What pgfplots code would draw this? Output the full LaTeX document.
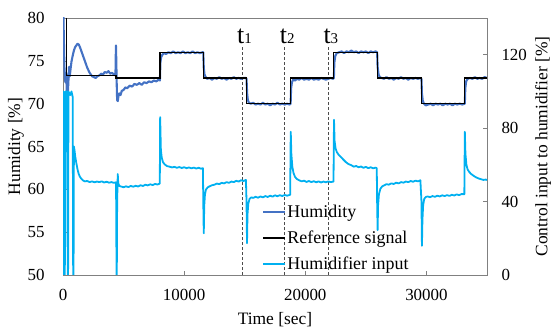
\documentclass[border=0pt]{standalone}
\usepackage{pgfplots}
\pgfplotsset{compat=1.18}
\usepackage{fontspec}
\setmainfont{Liberation Serif}
\definecolor{humblue}{RGB}{68,114,196}
\definecolor{humcyan}{RGB}{0,176,240}
\definecolor{axgray}{RGB}{128,128,128}
\begin{document}
\begin{tikzpicture}
\pgfplotsset{
 common/.style={
  scale only axis, width=424bp, height=257bp,
  xmin=0, xmax=35000,
  tick align=inside,
  /pgf/number format/assume math mode=true,
  /pgf/number format/1000 sep={},
  scaled x ticks=false,
  tick label style={font=\fontsize{17}{20}\selectfont},
  label style={font=\fontsize{17.5}{21}\selectfont},
  axis line style={axgray, line width=0.8bp},
  major tick length=4bp,
  tick style={axgray, line width=0.6bp},
 }
}
\begin{axis}[common,
  ymin=50, ymax=80, ytick={50,55,...,80},
  xtick={0,10000,20000,30000},
  xtick pos=bottom, ytick pos=left,
  xlabel={Time [sec]}, ylabel={Humidity [\%]},
  xticklabel style={yshift=-11bp},
  yticklabel style={xshift=-15bp},
  xlabel style={at={(axis description cs:0.5,-0.175)}, anchor=center},
  ylabel style={at={(axis description cs:-0.111,0.5)}, anchor=center},
]
\coordinate (bl) at (rel axis cs:0,0);
\coordinate (tr) at (rel axis cs:1,1);
% dashed markers
\addplot[black!70, dashed, dash pattern=on 3bp off 2bp, line width=0.5bp, forget plot] coordinates {(14780,50)(14780,76.65)};
\addplot[black!70, dashed, dash pattern=on 3bp off 2bp, line width=0.5bp, forget plot] coordinates {(18300,50)(18300,76.65)};
\addplot[black!70, dashed, dash pattern=on 3bp off 2bp, line width=0.5bp, forget plot] coordinates {(21900,50)(21900,76.65)};
\node[anchor=base west, inner sep=0pt, xshift=-5bp] at (axis cs:14780,77.05) {\fontsize{26}{26}\selectfont t{\fontsize{15}{15}\selectfont 1}};
\node[anchor=base west, inner sep=0pt, xshift=-5bp] at (axis cs:18300,77.05) {\fontsize{26}{26}\selectfont t{\fontsize{15}{15}\selectfont 2}};
\node[anchor=base west, inner sep=0pt, xshift=-5bp] at (axis cs:21900,77.05) {\fontsize{26}{26}\selectfont t{\fontsize{15}{15}\selectfont 3}};
% humidity
\addplot[humblue, line width=2.1bp, line join=round] coordinates {
(0,81)(40,80)(90,76)(140,73)(200,72.5)(260,73.6)(320,71.2)(380,70.6)(440,72.4)(500,74.3)(560,73.2)(620,74.0)(700,74.9)(800,75.6)(900,76.2)(1000,76.6)(1100,76.8)(1200,77.0)(1300,76.9)(1400,76.6)(1500,76.2)(1600,75.8)(1700,75.4)(1800,75.0)(1900,74.6)(2000,74.2)(2100,73.9)(2200,73.6)(2300,73.4)(2400,73.2)(2550,73.1)(2700,73.0)(2850,73.2)(3000,73.3)(3150,73.5)(3300,73.4)(3450,73.7)(3600,73.6)(3750,73.8)(3900,73.5)(4050,73.6)(4200,73.4)(4330,73.3)(4370,76.8)(4400,75.0)(4430,72.5)(4470,70.4)(4520,70.3)(4580,70.9)(4650,71.2)(4750,71.0)(4850,71.5)(5000,71.6)(5150,71.9)(5300,71.8)(5500,72.1)(5700,72.0)(5900,72.3)(6100,72.2)(6300,72.4)(6500,72.2)(6700,72.5)(6900,72.4)(7100,72.6)(7300,72.5)(7500,72.7)(7700,72.6)(7900,72.8)(8000,72.7)(8040,74.8)(8100,75.4)(8200,75.7)(8350,75.9)(8500,75.8)(8700,76.0)(8900,75.9)(9100,76.1)(9300,75.9)(9500,76.0)(9700,75.9)(9900,76.1)(10100,75.9)(10300,76.0)(10500,75.9)(10700,76.1)(10900,75.9)(11100,76.0)(11300,75.9)(11500,76.0)(11580,76.0)(11620,74.2)(11680,73.4)(11780,73.1)(11900,72.9)(12100,73.0)(12300,72.8)(12500,73.0)(12700,72.9)(12900,73.1)(13100,72.9)(13300,73.0)(13500,72.8)(13700,73.0)(13900,72.9)(14100,73.1)(14300,72.9)(14500,73.0)(14700,72.9)(14900,73.0)(15100,73.0)(15150,72.9)(15200,71.2)(15260,70.4)(15350,70.1)(15500,70.0)(15700,70.1)(15900,69.9)(16100,70.0)(16300,69.9)(16500,70.1)(16700,69.9)(16900,70.0)(17100,69.8)(17300,70.0)(17500,69.9)(17700,70.1)(17900,69.9)(18100,70.0)(18300,69.9)(18500,70.0)(18700,69.9)(18790,70.0)(18830,71.8)(18900,72.5)(19000,72.8)(19150,72.7)(19300,72.9)(19500,72.8)(19700,73.0)(19900,72.8)(20100,72.9)(20300,72.8)(20500,73.0)(20700,72.8)(20900,72.9)(21100,72.8)(21300,73.0)(21500,72.9)(21700,72.8)(21900,72.9)(22100,73.0)(22300,72.9)(22360,73.0)(22400,74.8)(22480,75.6)(22600,75.9)(22800,76.0)(23000,76.1)(23200,75.9)(23400,76.1)(23600,76.0)(23800,76.2)(24000,76.0)(24200,76.1)(24400,75.9)(24600,76.1)(24800,76.0)(25000,76.1)(25200,75.9)(25400,76.1)(25600,76.0)(25800,76.1)(25930,76.0)(25970,74.3)(26050,73.4)(26150,73.1)(26300,73.0)(26500,72.9)(26700,73.1)(26900,72.9)(27100,73.0)(27300,72.8)(27500,73.0)(27700,72.9)(27900,73.1)(28100,72.9)(28300,73.0)(28500,72.8)(28700,73.0)(28900,72.9)(29100,73.0)(29300,72.9)(29500,73.0)(29590,72.9)(29630,71.2)(29700,70.3)(29800,70.0)(29950,69.8)(30150,69.9)(30350,70.0)(30550,69.8)(30750,70.0)(30950,69.9)(31150,70.0)(31350,69.8)(31550,70.0)(31750,69.9)(31950,70.0)(32150,69.8)(32350,70.0)(32550,69.9)(32750,70.0)(32950,69.9)(33170,70.0)(33210,71.8)(33280,72.6)(33400,72.9)(33600,73.0)(33800,72.9)(34000,73.1)(34200,72.9)(34400,73.0)(34600,72.9)(34800,73.1)(35000,73.0)
};
% reference
\addplot[black, line width=1.2bp] coordinates {
(305,80)(305,73.3)(4370,73.3)(4370,73.0)(8000,73.0)(8000,76)(11580,76)(11580,73)(15150,73)(15150,70)(18790,70)(18790,73)(22360,73)(22360,76)(25930,76)(25930,73)(29590,73)(29590,70)(33170,70)(33170,73)(35000,73)
};
\end{axis}
\begin{axis}[common,
  ymin=0, ymax=140, ytick={0,40,80,120},
  axis x line=none, axis y line*=right, ytick pos=right,
  ylabel={Control input to humidifier [\%]},
  yticklabel style={xshift=11bp},
  ylabel style={at={(axis description cs:1.132,0.5)}, anchor=center},
  legend cell align=left,
  legend image code/.code={\draw[#1] (0bp,0bp) -- (22bp,0bp);},
  legend style={draw=none, fill=none, at={(rel axis cs:0.470,0.01)}, anchor=south west,
     font=\fontsize{18}{21}\selectfont, inner sep=0pt, row sep=10bp,
     nodes={inner sep=1bp}},
]
\addlegendimage{humblue, line width=2bp}
\addlegendentry{Humidity}
\addlegendimage{black, line width=1.2bp}
\addlegendentry{Reference signal}
\addplot[humcyan, line width=1.8bp, line join=round] coordinates {
(0,0)(30,100)(50,0)(150,0)(200,100)(350,100)(390,0)(420,0)(450,100)(600,98)(700,100)(800,97)(840,0)(870,0)(900,70)(950,68)(1000,65)(1100,61)(1200,57.5)(1300,55)(1400,53.5)(1500,52.5)(1650,51.5)(1800,51.0)(2000,51.2)(2200,50.6)(2400,51.0)(2600,50.5)(2800,50.9)(3000,50.6)(3200,51.0)(3400,50.4)(3600,50.8)(3800,50.3)(4000,50.6)(4200,50.2)(4380,50.5)(4420,0)(4440,0)(4470,40)(4520,55)(4560,50)(4650,48.5)(4800,48.2)(5000,47.8)(5200,48.3)(5400,47.9)(5600,48.5)(5800,48.1)(6000,48.6)(6200,48.2)(6400,48.9)(6600,48.5)(6800,49.2)(7000,48.8)(7200,49.4)(7400,49.0)(7600,49.6)(7800,49.3)(7990,49.8)(8020,86)(8080,68)(8150,64)(8250,61.5)(8400,60.2)(8600,59.3)(8800,59.0)(9000,58.6)(9200,58.9)(9400,58.4)(9600,58.8)(9800,58.3)(10000,58.7)(10200,58.2)(10400,58.6)(10600,58.1)(10800,58.5)(11000,58.0)(11200,58.4)(11400,57.9)(11550,58.2)(11580,40)(11620,22.7)(11660,38)(11720,44)(11800,46.5)(11950,47.8)(12100,48.3)(12300,48.9)(12500,49.2)(12700,49.8)(12900,49.5)(13100,50.2)(13300,49.9)(13500,50.6)(13700,50.2)(13900,50.9)(14100,50.6)(14300,51.3)(14500,50.9)(14700,51.6)(14900,51.2)(15100,51.8)(15150,40)(15190,17.3)(15230,33)(15300,39)(15400,41.5)(15550,42.3)(15700,42.0)(15900,42.6)(16100,42.1)(16300,42.8)(16500,42.3)(16700,43.0)(16900,42.5)(17100,43.2)(17300,42.7)(17500,43.4)(17700,42.9)(17900,43.5)(18100,43.0)(18300,43.6)(18500,43.2)(18750,43.7)(18800,78)(18850,66)(18930,59)(19030,55.5)(19150,53.5)(19300,52.3)(19500,51.6)(19700,51.0)(19900,51.4)(20100,50.7)(20300,51.2)(20500,50.6)(20700,51.1)(20900,50.5)(21100,51.0)(21300,50.4)(21500,50.9)(21700,50.5)(21900,51.0)(22100,50.6)(22330,50.9)(22370,84.5)(22420,73)(22500,69)(22600,67)(22750,65.5)(22950,64.2)(23150,62.8)(23350,61.5)(23550,60.5)(23800,59.8)(24000,59.0)(24200,59.4)(24400,58.7)(24600,59.1)(24800,58.4)(25000,58.9)(25200,58.2)(25400,58.7)(25600,58.1)(25800,58.5)(25900,58.2)(25930,40)(25970,24.5)(26010,38)(26080,44)(26200,47)(26350,48.3)(26500,48.8)(26700,49.5)(26900,49.2)(27100,49.9)(27300,49.6)(27500,50.3)(27700,49.9)(27900,50.6)(28100,50.3)(28300,50.9)(28500,50.6)(28700,51.2)(28900,50.8)(29100,51.4)(29300,51.0)(29500,51.6)(29590,40)(29630,15.9)(29670,30)(29730,38)(29820,41.5)(29950,42.5)(30100,42.8)(30300,42.4)(30500,43.0)(30700,42.6)(30900,43.2)(31100,42.8)(31300,43.4)(31500,43.0)(31700,43.5)(31900,43.1)(32100,43.7)(32300,43.3)(32500,43.9)(32700,43.5)(32900,44.1)(33130,44.0)(33170,78)(33220,66)(33300,60)(33400,57.5)(33550,56)(33700,55)(33900,54)(34100,53.2)(34300,52.6)(34500,52.2)(34700,51.8)(34900,52.0)(35000,51.7)
};
\addlegendentry{Humidifier input}
\end{axis}
\pgfresetboundingbox
\path ([shift={(-63bp,-57bp)}]bl) rectangle ([shift={(66bp,18bp)}]tr);
\end{tikzpicture}
\end{document}
